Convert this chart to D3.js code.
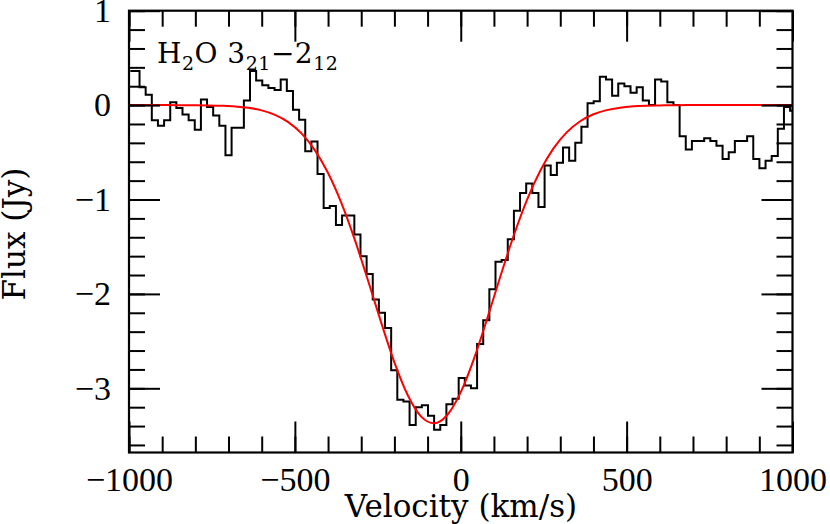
<!DOCTYPE html>
<html>
<head>
<meta charset="utf-8">
<title>H2O 3_21-2_12</title>
<style>
body {
  margin: 0;
  background: #fff;
}
.axis path.domain {
  display: none;
}
.axis line {
  stroke: #000;
  stroke-width: 2px;
}
.axis text {
  font-family: "Liberation Serif", serif;
  font-size: 34px;
  fill: #000;
}
.label {
  font-family: "DejaVu Serif", serif;
  fill: #000;
}
</style>
</head>
<body>
<svg width="830" height="524"></svg>
<script src="https://d3js.org/d3.v7.min.js"></script>
<script>

// channel centres (km/s) of the observed spectrum
const chanVel = [
  -996, -977.5, -959, -940.5, -922, -903.5, -885, -866.5, -848, -829.5,
  -811, -792.5, -774, -755.5, -737, -718.5, -700, -681.5, -663, -644.5,
  -626, -607.5, -589, -570.5, -552, -533.5, -515, -496.5, -478, -459.5,
  -441, -422.5, -404, -385.5, -367, -348.5, -330, -311.5, -293, -274.5,
  -256, -237.5, -219, -200.5, -182, -163.5, -145, -126.5, -108, -89.5,
  -71, -52.5, -34, -15.5, 3, 21.5, 40, 58.5, 77, 95.5,
  114, 132.5, 151, 169.5, 188, 206.5, 225, 243.5, 262, 280.5,
  299, 317.5, 336, 354.5, 373, 391.5, 410, 428.5, 447, 465.5,
  484, 502.5, 521, 539.5, 558, 576.5, 595, 613.5, 632, 650.5,
  669, 687.5, 706, 724.5, 743, 761.5, 780, 798.5, 817, 835.5,
  854, 872.5, 891, 909.5, 928, 946.5, 965, 983.5, 1002
];

// observed flux (Jy), one value per channel
const fluxJy = [
  0.36, 0.36, 0.19, 0.11, -0.16, -0.22, -0.16, 0.03, -0.03, -0.10,
  -0.16, -0.26, 0.06, -0.02, -0.11, -0.22, -0.53, -0.24, -0.24, 0.05,
  0.36, 0.26, 0.21, 0.18, 0.16, 0.27, 0.15, -0.05, -0.155, -0.49,
  -0.385, -0.73, -1.09, -1.07, -1.27, -1.17, -1.17, -1.37, -1.60, -1.79,
  -2.06, -2.20, -2.36, -2.81, -3.12, -3.14, -3.39, -3.20, -3.18, -3.29,
  -3.44, -3.39, -3.17, -3.11, -2.89, -2.97, -3.00, -2.53, -2.28, -1.95,
  -1.66, -1.64, -1.42, -1.12, -0.93, -0.83, -0.93, -1.08, -0.64, -0.74,
  -0.61, -0.45, -0.59, -0.40, -0.23, 0.02, 0.04, 0.30, 0.27, 0.10,
  0.23, 0.20, 0.13, 0.19, 0.05, 0.00, 0.27, 0.25, 0.03, 0.00,
  -0.33, -0.47, -0.38, -0.38, -0.35, -0.38, -0.43, -0.57, -0.50, -0.38,
  -0.38, -0.33, -0.57, -0.67, -0.59, -0.54, -0.25, -0.02, -0.06
];

// red model curve
const fitVel = [
  -1000, -960, -920, -880, -840, -800, -760, -720, -680, -640,
  -600, -560, -520, -480, -440, -400, -360, -320, -280, -240,
  -200, -160, -120, -80, -40, 0, 40, 80, 120, 160,
  200, 240, 280, 320, 360, 400, 440, 480, 520, 560,
  600, 640, 680, 720, 760, 800, 840, 880, 920, 960, 1000
];
const fitFlux = [
  0, 0, 0, 0, -0.001, -0.001, -0.003, -0.007, -0.014, -0.029,
  -0.056, -0.103, -0.180, -0.300, -0.477, -0.720, -1.036, -1.420, -1.853, -2.302,
  -2.725, -3.071, -3.297, -3.370, -3.280, -3.041, -2.685, -2.258, -1.808, -1.379,
  -1.001, -0.693, -0.456, -0.286, -0.171, -0.097, -0.053, -0.027, -0.013, -0.006,
  -0.003, -0.001, 0, 0, 0, 0, 0, 0, 0, 0, 0
];

const xTicks = [-1000, -500, 0, 500, 1000];
const yTicks = [-3, -2, -1, 0, 1];

const pLeft = 129, pRight = 792.5, pTop = 10.7, pBottom = 452.5;

const svg = d3.select("svg");

const x = d3.scaleLinear().domain([-1000, 1000]).range([pLeft, pRight]);
const y = d3.scaleLinear().domain([-3.68, 1]).range([pBottom, pTop]);

const fmt = d3.format("d");

svg.append("clipPath")
    .attr("id", "plotClip")
  .append("rect")
    .attr("x", pLeft)
    .attr("y", pTop)
    .attr("width", pRight - pLeft)
    .attr("height", pBottom - pTop);

// --- data ---
const spec = chanVel.map(function(v, i) { return [v, fluxJy[i]]; });
const fit = fitVel.map(function(v, i) { return [v, fitFlux[i]]; });

const plot = svg.append("g").attr("clip-path", "url(#plotClip)");

plot.append("path")
    .datum(spec)
    .attr("fill", "none")
    .attr("stroke", "#000")
    .attr("stroke-width", 2)
    .attr("d", d3.line()
      .x(function(d) { return x(d[0]); })
      .y(function(d) { return y(d[1]); })
      .curve(d3.curveStep));

plot.append("path")
    .datum(fit)
    .attr("fill", "none")
    .attr("stroke", "#f00")
    .attr("stroke-width", 2)
    .attr("d", d3.line()
      .x(function(d) { return x(d[0]); })
      .y(function(d) { return y(d[1]); })
      .curve(d3.curveMonotoneX));

// --- axes: minor + major ticks on all four sides, pointing inward ---
const xMinor = x.ticks(20), yMinor = y.ticks(25);

function noLabel() { return ""; }

// bottom
svg.append("g").attr("class", "axis")
    .attr("transform", "translate(0," + pBottom + ")")
    .call(d3.axisBottom(x).tickValues(xMinor).tickSize(-16).tickFormat(noLabel));
svg.append("g").attr("class", "axis")
    .attr("transform", "translate(0," + pBottom + ")")
    .call(d3.axisBottom(x).tickValues(xTicks).tickSize(-31).tickPadding(14).tickFormat(fmt));

// top
svg.append("g").attr("class", "axis")
    .attr("transform", "translate(0," + pTop + ")")
    .call(d3.axisTop(x).tickValues(xMinor).tickSize(-16).tickFormat(noLabel));
svg.append("g").attr("class", "axis")
    .attr("transform", "translate(0," + pTop + ")")
    .call(d3.axisTop(x).tickValues(xTicks).tickSize(-31).tickFormat(noLabel));

// left
svg.append("g").attr("class", "axis")
    .attr("transform", "translate(" + pLeft + ",0)")
    .call(d3.axisLeft(y).tickValues(yMinor).tickSize(-16).tickFormat(noLabel));
svg.append("g").attr("class", "axis")
    .attr("transform", "translate(" + pLeft + ",0)")
    .call(d3.axisLeft(y).tickValues(yTicks).tickSize(-31).tickPadding(18).tickFormat(fmt));

// right
svg.append("g").attr("class", "axis")
    .attr("transform", "translate(" + pRight + ",0)")
    .call(d3.axisRight(y).tickValues(yMinor).tickSize(-16).tickFormat(noLabel));
svg.append("g").attr("class", "axis")
    .attr("transform", "translate(" + pRight + ",0)")
    .call(d3.axisRight(y).tickValues(yTicks).tickSize(-31).tickFormat(noLabel));

// frame
svg.append("rect")
    .attr("x", pLeft)
    .attr("y", pTop)
    .attr("width", pRight - pLeft)
    .attr("height", pBottom - pTop)
    .attr("fill", "none")
    .attr("stroke", "#000")
    .attr("stroke-width", 2.2);

// --- labels ---
svg.append("text")
    .attr("class", "label")
    .attr("x", 461)
    .attr("y", 517)
    .attr("text-anchor", "middle")
    .attr("font-size", 31)
    .text("Velocity (km/s)");

svg.append("text")
    .attr("class", "label")
    .attr("transform", "translate(25,234) rotate(-90)")
    .attr("text-anchor", "middle")
    .attr("font-size", 31)
    .text("Flux (Jy)");

const title = svg.append("text")
    .attr("class", "label")
    .attr("x", 157)
    .attr("y", 63)
    .attr("font-size", 28)
    .attr("letter-spacing", 0.5);
title.append("tspan").text("H");
title.append("tspan").attr("dy", 7).attr("font-size", 19).text("2");
title.append("tspan").attr("dy", -7).text("O 3");
title.append("tspan").attr("dy", 7).attr("font-size", 19).text("21");
title.append("tspan").attr("dy", -7).text("\u22122");
title.append("tspan").attr("dy", 7).attr("font-size", 19).text("12");

</script>
</body>
</html>
